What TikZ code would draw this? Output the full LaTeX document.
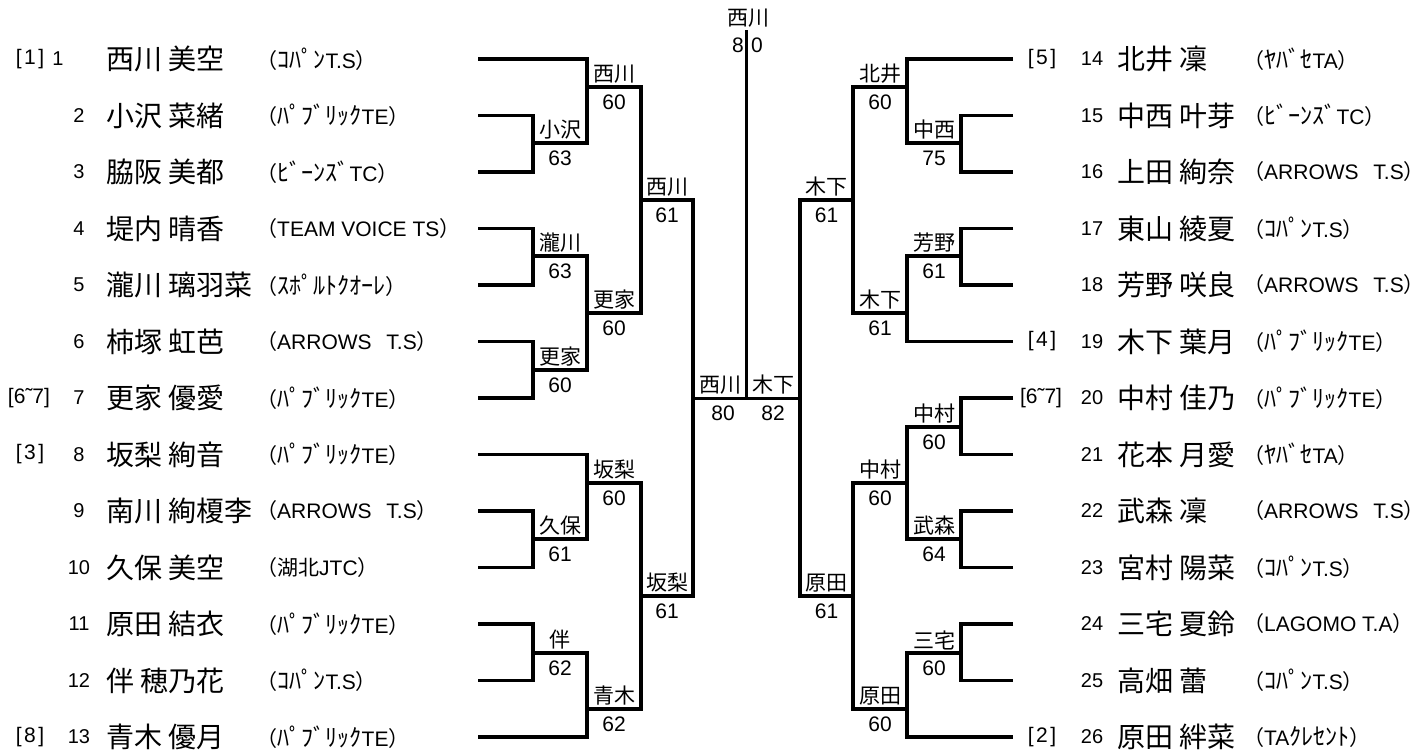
\documentclass[tikz,border=0pt]{standalone}
\usepackage{fontspec}
\setmainfont{Liberation Sans}
\newfontfamily\jp{Noto Sans CJK JP}
\newfontfamily\jk{Noto Sans CJK JP}[Scale=1.15]
\newcommand\tj[1]{{\jp #1}}
\newcommand\tk[1]{{\jk #1}}
\newcommand\po{\tj{（}}
\newcommand\pc{\tj{）}}
\tikzset{
 ln/.style={line width=3.2pt, line join=miter},
 lbl/.style={inner sep=0pt, font=\jp\fontsize{21}{21}\selectfont},
 sc/.style={inner sep=0pt, font=\fontsize{21}{21}\selectfont},
 seed/.style={inner sep=0pt, font=\fontsize{21}{21}\selectfont},
 num/.style={inner sep=0pt, font=\fontsize{20}{20}\selectfont},
 nm/.style={inner sep=0pt, anchor=west, font=\jp\fontsize{28}{28}\selectfont},
 tm/.style={inner sep=0pt, anchor=west, font=\fontsize{21}{21}\selectfont},
}
\newcommand\res[5]{\node[lbl] (#1l) at (#2,#3-13) {#4}; \node[sc] (#1s) at (#2,#3+15) {#5};}
\newcommand\plL[6]{%
 \node[num] (nu#2) at (#1,#3) {#4};
 \node[nm] (na#2) at (106,#3) {#5};
 \node[tm] (te#2) at (256,#3) {#6};}
\newcommand\plR[5]{%
 \node[num] (nu#1) at (1092,#2) {#3};
 \node[nm] (na#1) at (1117,#2) {#4};
 \node[tm] (te#1) at (1243,#2) {#5};}
\newcommand\AR{ARROWS\hspace{0.7em}T.S}
\newcommand\sd[1]{[\kern2.5pt#1\kern2.5pt]}
\begin{document}
\begin{tikzpicture}[x=1pt,y=-1pt]
\useasboundingbox (0,0) rectangle (1426,753);
% player line ends
\foreach \i/\y in {1/59,2/115.5,3/172,4/228.5,5/285,6/341.5,7/398,8/454.5,9/511,10/567.5,11/624,12/680.5,13/737}
  \coordinate (p\i) at (478,\y);
\foreach \i/\y in {14/59,15/115.5,16/172,17/228.5,18/285,19/341.5,20/398,21/454.5,22/511,23/567.5,24/624,25/680.5,26/737}
  \coordinate (p\i) at (1013,\y);
% joins left
\coordinate (LA) at (533,143);
\coordinate (LB) at (533,256);
\coordinate (LC) at (533,370);
\coordinate (LD) at (533,539);
\coordinate (LE) at (533,653);
\coordinate (LF) at (587,87);
\coordinate (LG) at (587,313);
\coordinate (LH) at (587,483);
\coordinate (LI) at (587,709);
\coordinate (LJ) at (641,200);
\coordinate (LK) at (641,596);
\coordinate (SL) at (693,398.5);
% joins right
\coordinate (RA) at (961,143);
\coordinate (RB) at (961,256);
\coordinate (RC) at (961,427);
\coordinate (RD) at (961,539);
\coordinate (RE) at (961,653);
\coordinate (RF) at (907,87);
\coordinate (RG) at (907,313);
\coordinate (RH) at (907,483);
\coordinate (RI) at (907,709);
\coordinate (RJ) at (853,200);
\coordinate (RK) at (853,596);
\coordinate (SR) at (800,398.5);
\coordinate (top) at (746.5,30);
\coordinate (mid) at (746.5,398.5);
% left bracket
\draw[ln] (p2) -| (LA) |- (p3);
\draw[ln] (p4) -| (LB) |- (p5);
\draw[ln] (p6) -| (LC) |- (p7);
\draw[ln] (p9) -| (LD) |- (p10);
\draw[ln] (p11) -| (LE) |- (p12);
\draw[ln] (p1) -| (LF) |- (LA);
\draw[ln] (LB) -| (LG) |- (LC);
\draw[ln] (p8) -| (LH) |- (LD);
\draw[ln] (LE) -| (LI) |- (p13);
\draw[ln] (LF) -| (LJ) |- (LG);
\draw[ln] (LH) -| (LK) |- (LI);
\draw[ln] (LJ) -| (SL) |- (LK);
% right bracket
\draw[ln] (p15) -| (RA) |- (p16);
\draw[ln] (p17) -| (RB) |- (p18);
\draw[ln] (p20) -| (RC) |- (p21);
\draw[ln] (p22) -| (RD) |- (p23);
\draw[ln] (p24) -| (RE) |- (p25);
\draw[ln] (p14) -| (RF) |- (RA);
\draw[ln] (RB) -| (RG) |- (p19);
\draw[ln] (RC) -| (RH) |- (RD);
\draw[ln] (RE) -| (RI) |- (p26);
\draw[ln] (RF) -| (RJ) |- (RG);
\draw[ln] (RH) -| (RK) |- (RI);
\draw[ln] (RJ) -| (SR) |- (RK);
% final
\draw[ln] (SL) -- (SR);
\draw[ln] (top) -- (mid);
% results left
\res{LA}{560}{143}{小沢}{63}
\res{LF}{614}{87}{西川}{60}
\res{LB}{560}{256}{瀧川}{63}
\res{LC}{560}{370}{更家}{60}
\res{LG}{614}{313}{更家}{60}
\res{LJ}{667}{200}{西川}{61}
\res{LD}{560}{539}{久保}{61}
\res{LH}{614}{483}{坂梨}{60}
\res{LE}{560}{653}{伴}{62}
\res{LI}{614}{709}{青木}{62}
\res{LK}{667}{596}{坂梨}{61}
% results right
\res{RA}{934}{143}{中西}{75}
\res{RF}{880}{87}{北井}{60}
\res{RB}{934}{256}{芳野}{61}
\res{RG}{880}{313}{木下}{61}
\res{RJ}{826.5}{200}{木下}{61}
\res{RC}{934}{427}{中村}{60}
\res{RD}{934}{539}{武森}{64}
\res{RH}{880}{483}{中村}{60}
\res{RE}{934}{653}{三宅}{60}
\res{RI}{880}{709}{原田}{60}
\res{RK}{826.5}{596}{原田}{61}
% final labels
\node[lbl] (SLl) at (720,385) {西川};
\node[sc] (SLs) at (723,413) {80};
\node[lbl] (SRl) at (773,385) {木下};
\node[sc] (SRs) at (773,413) {82};
\node[lbl] (chl) at (748,18) {西川};
\node[sc] (ch8) at (738,45) {8};
\node[sc] (ch0) at (757,45) {0};
% seeds
\node[seed] (s1) at (30,59) {\sd{1}};
\node[seed] (s7) at (29,398) {[6˜7]};
\node[seed] (s8) at (30,454.5) {\sd{3}};
\node[seed] (s13) at (30,737) {\sd{8}};
\node[seed] (s14) at (1042,59) {\sd{5}};
\node[seed] (s19) at (1042,341.5) {\sd{4}};
\node[seed] (s20) at (1041,398) {[6˜7]};
\node[seed] (s26) at (1042,737) {\sd{2}};
% players left
\plL{58}{1}{59}{1}{西川 美空}{\po\tk{ｺﾊﾟﾝ}T.S\pc}
\plL{79}{2}{115.5}{2}{小沢 菜緒}{\po\tk{ﾊﾟﾌﾞﾘｯｸ}TE\pc}
\plL{79}{3}{172}{3}{脇阪 美都}{\po\tk{ﾋﾞｰﾝｽﾞ}TC\pc}
\plL{79}{4}{228.5}{4}{堤内 晴香}{\po TEAM VOICE TS\pc}
\plL{79}{5}{285}{5}{瀧川 璃羽菜}{\po\tk{ｽﾎﾟﾙﾄｸｵｰﾚ}\pc}
\plL{79}{6}{341.5}{6}{柿塚 虹芭}{\po\AR\pc}
\plL{79}{7}{398}{7}{更家 優愛}{\po\tk{ﾊﾟﾌﾞﾘｯｸ}TE\pc}
\plL{79}{8}{454.5}{8}{坂梨 絢音}{\po\tk{ﾊﾟﾌﾞﾘｯｸ}TE\pc}
\plL{79}{9}{511}{9}{南川 絢榎李}{\po\AR\pc}
\plL{79}{10}{567.5}{10}{久保 美空}{\po\tj{湖北}JTC\pc}
\plL{79}{11}{624}{11}{原田 結衣}{\po\tk{ﾊﾟﾌﾞﾘｯｸ}TE\pc}
\plL{79}{12}{680.5}{12}{伴 穂乃花}{\po\tk{ｺﾊﾟﾝ}T.S\pc}
\plL{79}{13}{737}{13}{青木 優月}{\po\tk{ﾊﾟﾌﾞﾘｯｸ}TE\pc}
% players right
\plR{14}{59}{14}{北井 凜}{\po\tk{ﾔﾊﾞｾ}TA\pc}
\plR{15}{115.5}{15}{中西 叶芽}{\po\tk{ﾋﾞｰﾝｽﾞ}TC\pc}
\plR{16}{172}{16}{上田 絢奈}{\po\AR\pc}
\plR{17}{228.5}{17}{東山 綾夏}{\po\tk{ｺﾊﾟﾝ}T.S\pc}
\plR{18}{285}{18}{芳野 咲良}{\po\AR\pc}
\plR{19}{341.5}{19}{木下 葉月}{\po\tk{ﾊﾟﾌﾞﾘｯｸ}TE\pc}
\plR{20}{398}{20}{中村 佳乃}{\po\tk{ﾊﾟﾌﾞﾘｯｸ}TE\pc}
\plR{21}{454.5}{21}{花本 月愛}{\po\tk{ﾔﾊﾞｾ}TA\pc}
\plR{22}{511}{22}{武森 凜}{\po\AR\pc}
\plR{23}{567.5}{23}{宮村 陽菜}{\po\tk{ｺﾊﾟﾝ}T.S\pc}
\plR{24}{624}{24}{三宅 夏鈴}{\po LAGOMO T.A\pc}
\plR{25}{680.5}{25}{高畑 蕾}{\po\tk{ｺﾊﾟﾝ}T.S\pc}
\plR{26}{737}{26}{原田 絆菜}{\po TA\tk{ｸﾚｾﾝﾄ}\pc}
\end{tikzpicture}
\end{document}
